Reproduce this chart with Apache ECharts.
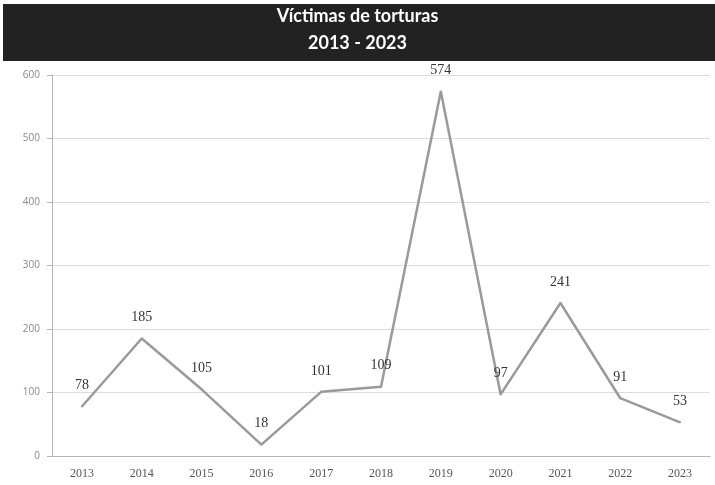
<!DOCTYPE html>
<html>
<head>
<meta charset="utf-8">
<script src="https://cdn.jsdelivr.net/npm/echarts@6/dist/echarts.min.js"></script>
<style>
  html, body { margin: 0; padding: 0; background: #ffffff; }
  #chart { width: 715px; height: 485px; }
</style>
</head>
<body>
<div id="chart"></div>
<script>
// Years on the horizontal axis
const years = ['2013', '2014', '2015', '2016', '2017', '2018', '2019', '2020', '2021', '2022', '2023'];
// Number of torture victims per year
const victims = [78, 185, 105, 18, 101, 109, 574, 97, 241, 91, 53];
// Title lines
const titleLines = ['Víctimas de torturas', '2013 - 2023'];

const chart = echarts.init(document.getElementById('chart'), null, { renderer: 'canvas' });

chart.setOption({
  animation: false,
  backgroundColor: '#ffffff',
  graphic: [
    {
      type: 'rect',
      shape: { x: 3, y: 4, width: 712, height: 57 },
      style: { fill: '#222222' },
      z: 0
    },
    {
      type: 'text',
      left: 'center',
      top: 7,
      style: {
        text: titleLines[0],
        fill: '#ffffff',
        font: 'bold 18px Lato, "Open Sans", sans-serif'
      },
      z: 1
    },
    {
      type: 'text',
      left: 'center',
      top: 34,
      style: {
        text: titleLines[1],
        fill: '#ffffff',
        font: 'bold 18px Lato, "Open Sans", sans-serif'
      },
      z: 1
    }
  ],
  grid: { left: 52, right: 5, top: 75, bottom: 29 },
  xAxis: {
    type: 'category',
    data: years,
    boundaryGap: true,
    axisLine: { lineStyle: { color: '#b5b5b5', width: 1 } },
    axisTick: { show: false },
    axisLabel: {
      color: '#555555',
      fontFamily: '"Liberation Serif", "DejaVu Serif", serif',
      fontSize: 12,
      margin: 12
    }
  },
  yAxis: {
    type: 'value',
    min: 0,
    max: 600,
    interval: 100,
    axisLine: { show: true, lineStyle: { color: '#b5b5b5', width: 1 } },
    axisTick: { show: true, length: 5, lineStyle: { color: '#b5b5b5' } },
    axisLabel: {
      color: '#888888',
      fontFamily: '"Open Sans", "DejaVu Sans", sans-serif',
      fontSize: 10,
      margin: 12
    },
    splitLine: { lineStyle: { color: '#dddddd', width: 1 } }
  },
  series: [
    {
      type: 'line',
      data: victims,
      showSymbol: true,
      symbol: 'circle',
      symbolSize: 2,
      itemStyle: { color: '#9a9a9a', borderWidth: 0 },
      lineStyle: { color: '#9a9a9a', width: 2.5 },
      label: {
        show: true,
        position: 'top',
        distance: 13,
        color: '#333333',
        fontFamily: '"Liberation Serif", "DejaVu Serif", serif',
        fontSize: 14
      }
    }
  ]
});
</script>
</body>
</html>
